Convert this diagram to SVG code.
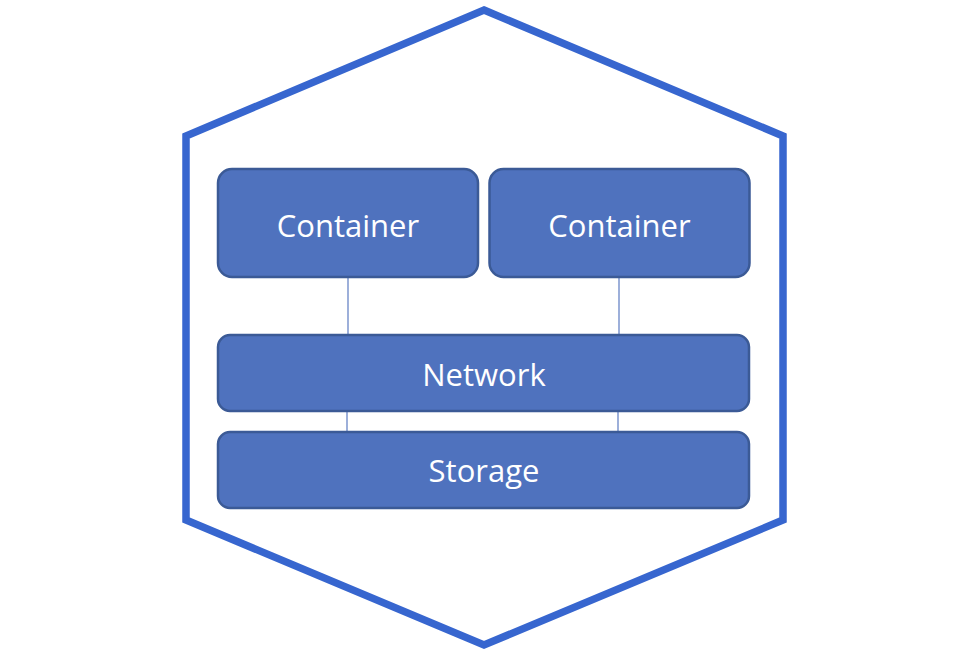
<svg xmlns="http://www.w3.org/2000/svg" width="954" height="652" viewBox="0 0 954 652">
<style>
.box{fill:#4F72BE;stroke:#3B5A96;stroke-width:2.5}
.lbl{fill:#FFFFFF;font-family:"Open Sans","Noto Sans","DejaVu Sans",sans-serif;font-size:31px;text-anchor:middle}
.conn{stroke:#5C7BC2;stroke-width:1.2;fill:none}
</style>
<rect width="954" height="652" fill="#FFFFFF"/>
<g id="hexagon">
<polygon points="484,10 783,136 783,520 484,645 186,520 186,136" fill="none" stroke="#3766CF" stroke-width="7.5" stroke-linejoin="miter"/>
</g>
<g id="connectors">
<line class="conn" x1="348" y1="278" x2="348" y2="335"/>
<line class="conn" x1="619" y1="278" x2="619" y2="335"/>
<line class="conn" x1="347" y1="411" x2="347" y2="432"/>
<line class="conn" x1="618" y1="411" x2="618" y2="432"/>
</g>
<g id="container1">
<rect class="box" x="218" y="169" width="260" height="108" rx="14"/>
<text class="lbl" x="348" y="237">Container</text>
</g>
<g id="container2">
<rect class="box" x="489.5" y="169" width="260" height="108" rx="14"/>
<text class="lbl" x="619.5" y="237">Container</text>
</g>
<g id="network">
<rect class="box" x="218" y="335" width="531" height="76" rx="12"/>
<text class="lbl" x="484" y="386">Network</text>
</g>
<g id="storage">
<rect class="box" x="218" y="432" width="531" height="76" rx="12"/>
<text class="lbl" x="484" y="482">Storage</text>
</g>
</svg>
